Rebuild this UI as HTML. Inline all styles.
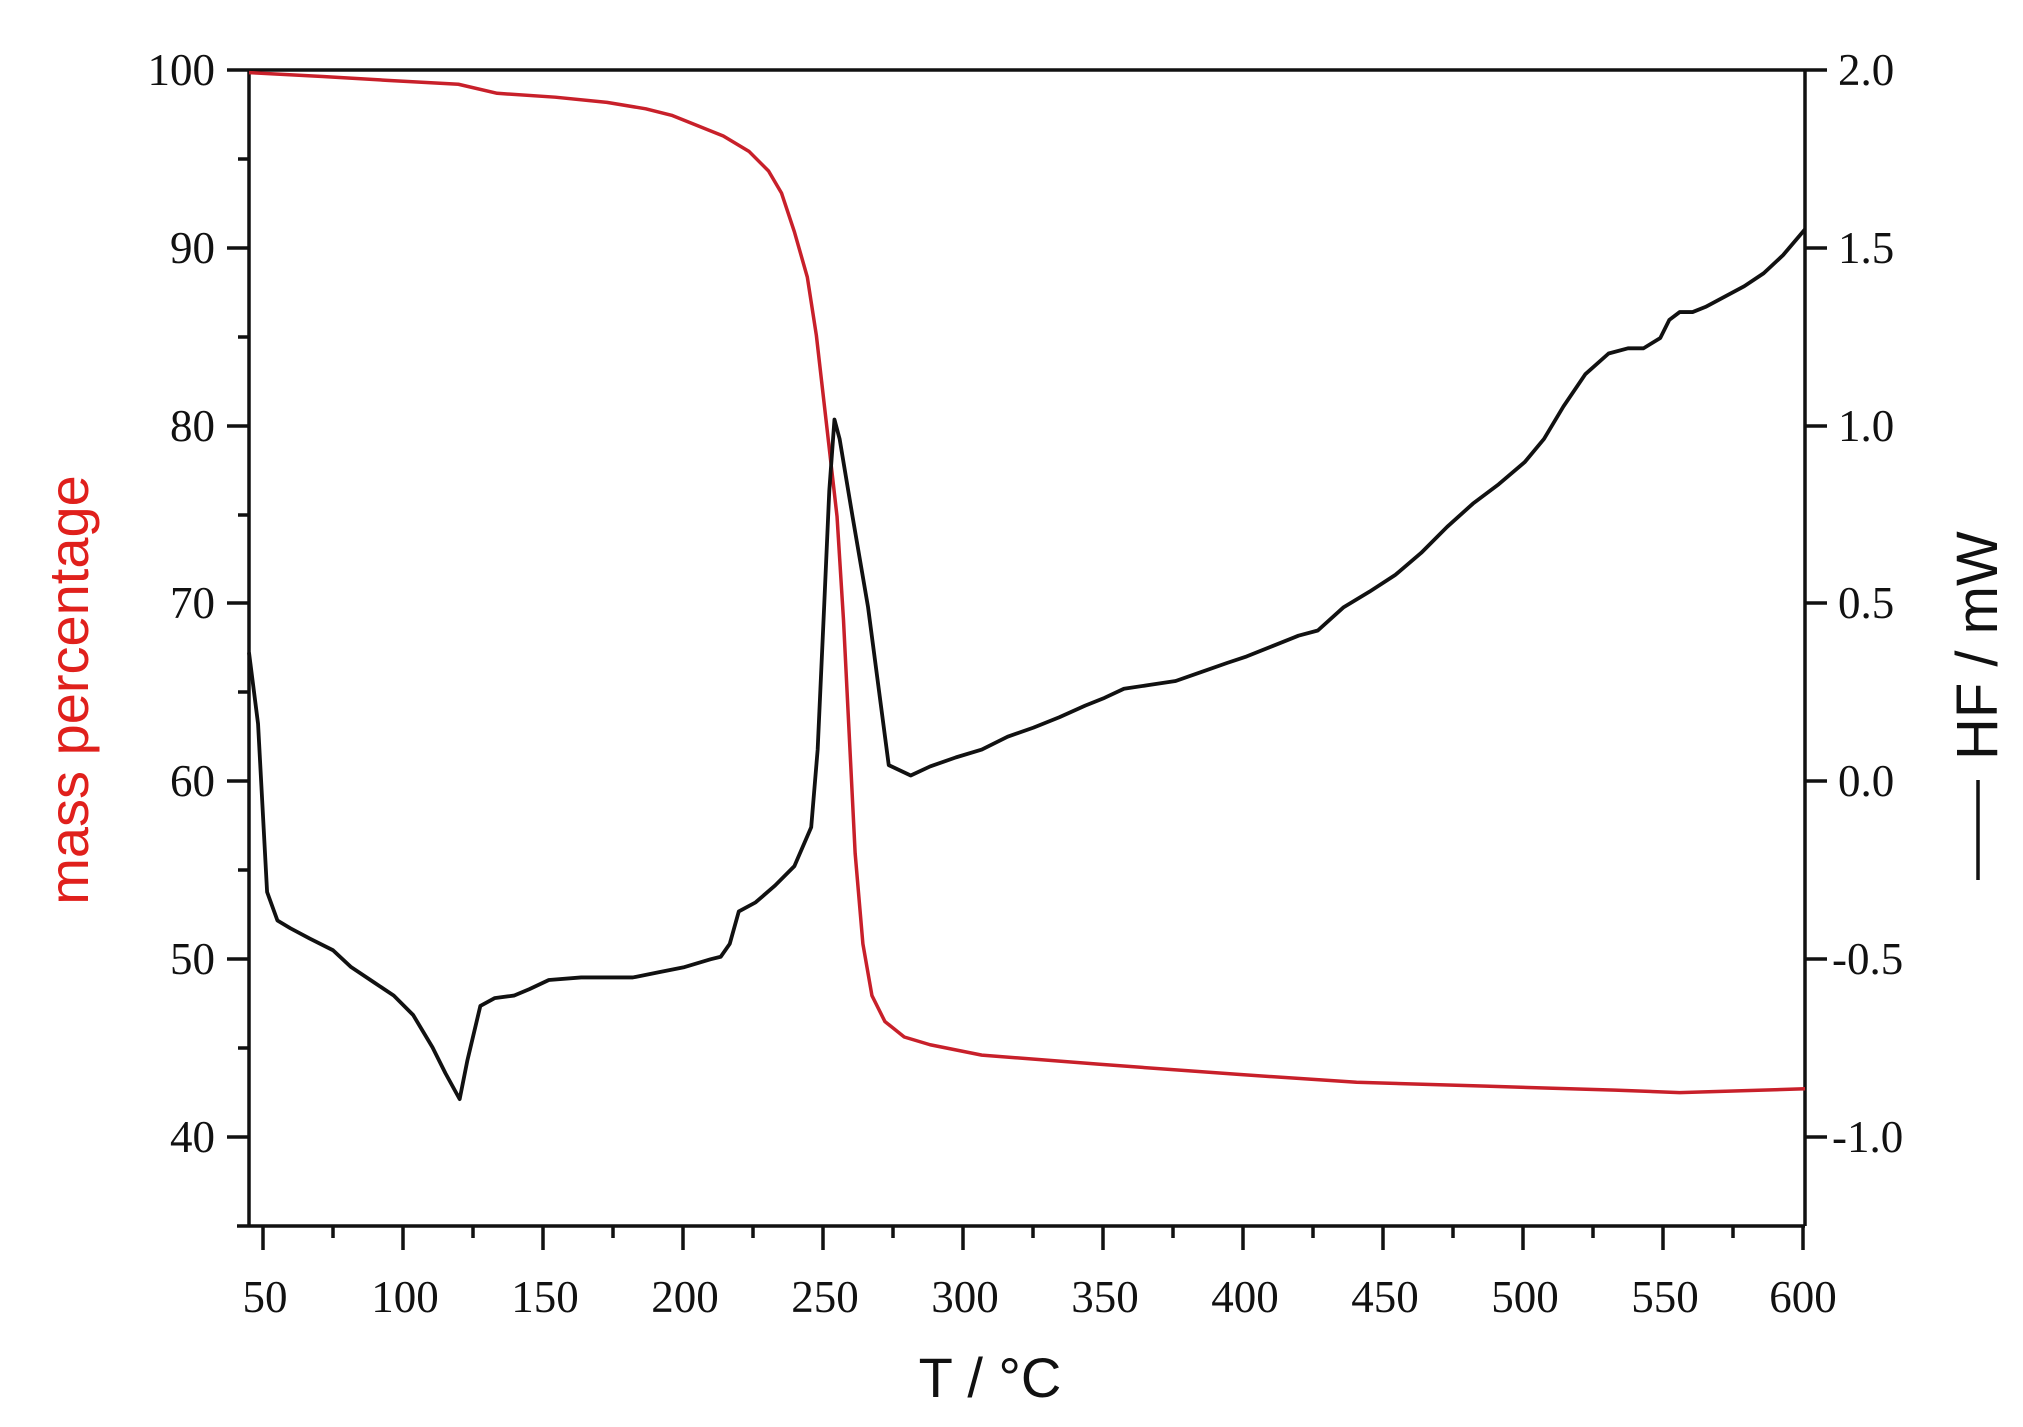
<!DOCTYPE html>
<html><head><meta charset="utf-8"><style>
html,body{margin:0;padding:0;background:#fff;}
svg{display:block;}
.t{font-family:"Liberation Serif",serif;font-size:45px;fill:#111;}
</style></head><body>
<svg width="2023" height="1427" viewBox="0 0 2023 1427" xmlns="http://www.w3.org/2000/svg">
<g stroke="#111" stroke-width="3.5" fill="none">
<line x1="249" y1="70" x2="1827" y2="70"/>
<line x1="249" y1="70" x2="249" y2="1226"/>
<line x1="1805" y1="70" x2="1805" y2="1226"/>
<line x1="237" y1="1226" x2="1805" y2="1226"/>
<g>
<line x1="227" y1="70" x2="249" y2="70"/><line x1="227" y1="248" x2="249" y2="248"/><line x1="227" y1="426" x2="249" y2="426"/><line x1="227" y1="603" x2="249" y2="603"/><line x1="227" y1="781" x2="249" y2="781"/><line x1="227" y1="959" x2="249" y2="959"/><line x1="227" y1="1137" x2="249" y2="1137"/>
<line x1="238" y1="159" x2="249" y2="159"/><line x1="238" y1="337" x2="249" y2="337"/><line x1="238" y1="515" x2="249" y2="515"/><line x1="238" y1="692" x2="249" y2="692"/><line x1="238" y1="870" x2="249" y2="870"/><line x1="238" y1="1048" x2="249" y2="1048"/>
</g>
<g>
<line x1="1805" y1="248" x2="1827" y2="248"/><line x1="1805" y1="426" x2="1827" y2="426"/><line x1="1805" y1="603" x2="1827" y2="603"/><line x1="1805" y1="781" x2="1827" y2="781"/><line x1="1805" y1="959" x2="1827" y2="959"/><line x1="1805" y1="1137" x2="1827" y2="1137"/>
</g>
<g>
<line x1="263" y1="1226" x2="263" y2="1250"/><line x1="403" y1="1226" x2="403" y2="1250"/><line x1="543" y1="1226" x2="543" y2="1250"/><line x1="683" y1="1226" x2="683" y2="1250"/><line x1="823" y1="1226" x2="823" y2="1250"/><line x1="963" y1="1226" x2="963" y2="1250"/><line x1="1103" y1="1226" x2="1103" y2="1250"/><line x1="1243" y1="1226" x2="1243" y2="1250"/><line x1="1383" y1="1226" x2="1383" y2="1250"/><line x1="1523" y1="1226" x2="1523" y2="1250"/><line x1="1663" y1="1226" x2="1663" y2="1250"/><line x1="1803" y1="1226" x2="1803" y2="1250"/>
<line x1="333" y1="1226" x2="333" y2="1238"/><line x1="473" y1="1226" x2="473" y2="1238"/><line x1="613" y1="1226" x2="613" y2="1238"/><line x1="753" y1="1226" x2="753" y2="1238"/><line x1="893" y1="1226" x2="893" y2="1238"/><line x1="1033" y1="1226" x2="1033" y2="1238"/><line x1="1173" y1="1226" x2="1173" y2="1238"/><line x1="1313" y1="1226" x2="1313" y2="1238"/><line x1="1453" y1="1226" x2="1453" y2="1238"/><line x1="1593" y1="1226" x2="1593" y2="1238"/><line x1="1733" y1="1226" x2="1733" y2="1238"/>
</g>
</g>
<g class="t" text-anchor="end">
<text x="215" y="85">100</text><text x="215" y="263">90</text><text x="215" y="441">80</text><text x="215" y="618">70</text><text x="215" y="796">60</text><text x="215" y="974">50</text><text x="215" y="1152">40</text>
</g>
<g class="t" text-anchor="start">
<text x="1838" y="85">2.0</text><text x="1838" y="263">1.5</text><text x="1838" y="441">1.0</text><text x="1838" y="618">0.5</text><text x="1838" y="796">0.0</text><text x="1832" y="974">-0.5</text><text x="1832" y="1152">-1.0</text>
</g>
<g class="t" text-anchor="middle">
<text x="265" y="1312">50</text><text x="405" y="1312">100</text><text x="545" y="1312">150</text><text x="685" y="1312">200</text><text x="825" y="1312">250</text><text x="965" y="1312">300</text><text x="1105" y="1312">350</text><text x="1245" y="1312">400</text><text x="1385" y="1312">450</text><text x="1525" y="1312">500</text><text x="1665" y="1312">550</text><text x="1803" y="1312">600</text>
</g>
<text x="990" y="1397" text-anchor="middle" font-family="Liberation Sans,sans-serif" font-size="56" fill="#111">T / °C</text>
<text transform="translate(88,690) rotate(-90)" text-anchor="middle" font-family="Liberation Sans,sans-serif" font-size="56" fill="#e0201c">mass percentage</text>
<g transform="translate(1997,680) rotate(-90)">
<line x1="-200" y1="-19" x2="-100" y2="-19" stroke="#111" stroke-width="3.5"/>
<text x="-80" y="0" font-family="Liberation Sans,sans-serif" font-size="58" fill="#111">HF / mW</text>
</g>
<g transform="translate(249,70) scale(1.2924,1.2945) translate(-193,-55)" fill="none" stroke-linejoin="round">
<polyline vector-effect="non-scaling-stroke" stroke="#c8202a" stroke-width="3.5" points="193,57 250,60 300,63 355,66 385,73 430,76 470,80 500,85 520,90 540,98 560,106 580,118 595,133 605,150 615,180 625,215 632,260 640,330 648,400 653,480 657,560 662,660 668,730 675,770 685,790 700,802 720,808 760,816 850,823 960,831 1050,837 1150,840 1250,843 1300,845 1397,842"/>
<polyline vector-effect="non-scaling-stroke" stroke="#111" stroke-width="3.8" points="193,505 200,560 207,690 215,712 225,718 240,726 258,735 272,748 290,760 305,770 320,785 335,810 345,830 356,850 362,820 372,778 383,772 398,770 410,765 425,758 450,756 490,756 510,752 530,748 550,742 558,740 565,730 572,705 585,698 600,685 615,670 628,640 633,580 638,470 642,380 646,325 650,340 660,400 672,470 688,592 705,600 720,593 740,586 760,580 780,570 800,563 820,555 840,546 855,540 870,533 890,530 910,527 930,520 950,513 965,508 985,500 1005,492 1020,488 1040,470 1060,458 1080,445 1100,428 1120,408 1140,390 1160,375 1180,358 1195,340 1210,315 1227,290 1245,274 1260,270 1272,270 1285,262 1292,248 1300,242 1310,242 1320,238 1335,230 1350,222 1365,212 1380,198 1397,178"/>
</g>
</svg>
</body></html>
